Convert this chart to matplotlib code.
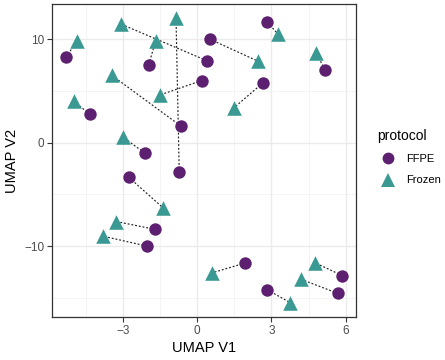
import matplotlib
matplotlib.use("Agg")
import matplotlib.pyplot as plt
from matplotlib.lines import Line2D
import numpy as np

plt.rcParams['font.family'] = ['Liberation Sans', 'DejaVu Sans']

# paired samples: FFPE (circles) and Frozen (triangles), same order
ffpe_x = [-5.30, -4.33, -1.95, 0.39, 0.51, 0.19, -0.66, -0.72, -2.12, -2.75,
          -1.68, -2.03, 2.84, 5.17, 2.66, 1.95, 5.86, 5.69, 2.84]
ffpe_y = [8.24, 2.73, 7.54, 7.92, 10.00, 6.00, 1.61, -2.88, -0.99, -3.37,
          -8.39, -10.00, 11.61, 7.06, 5.77, -11.63, -12.85, -14.58, -14.23]
frozen_x = [-4.83, -4.98, -1.67, -3.06, 2.47, -1.51, -3.45, -0.85, -3.01, -1.37,
            -3.26, -3.80, 3.26, 4.80, 1.49, 0.59, 4.75, 4.19, 3.77]
frozen_y = [9.85, 4.01, 9.85, 11.44, 7.86, 4.59, 6.51, 12.02, 0.55, -6.31,
            -7.63, -9.04, 10.52, 8.65, 3.37, -12.60, -11.60, -13.20, -15.48]

x_ticks = [-3, 0, 3, 6]
y_ticks = [-10, 0, 10]

purple = "#5d1f6f"
teal = "#3a9a93"

fig = plt.figure(figsize=(4.45, 3.6), dpi=100)
ax = fig.add_axes([52 / 445, 1 - 317 / 360, (356 - 52) / 445, (317 - 4) / 360])

# dotted lines joining each pair
for x1, y1, x2, y2 in zip(ffpe_x, ffpe_y, frozen_x, frozen_y):
    ax.plot([x1, x2], [y1, y2], color="#222222", lw=0.85,
            dashes=(1.6, 1.6), zorder=2)

ax.scatter(ffpe_x, ffpe_y, s=80, marker="o", color=purple, linewidths=0, zorder=3)
ax.scatter(frozen_x, frozen_y, s=110, marker="^", color=teal, linewidths=0, zorder=3)

# ggplot style 5% expansion
allx = np.array(ffpe_x + frozen_x)
ally = np.array(ffpe_y + frozen_y)
dx = (allx.max() - allx.min()) * 0.05
dy = (ally.max() - ally.min()) * 0.05
ax.set_xlim(allx.min() - dx, allx.max() + dx)
ax.set_ylim(ally.min() - dy, ally.max() + dy)

ax.set_xticks(x_ticks)
ax.set_yticks(y_ticks)
ax.set_xticks([-4.5, -1.5, 1.5, 4.5], minor=True)
ax.set_yticks([-15, -5, 5], minor=True)
ax.set_yticklabels(["\u221210", "0", "10"])
ax.set_xticklabels(["\u22123", "0", "3", "6"])
ax.tick_params(which="major", length=3.5, width=0.8, color="#333333",
               labelsize=8.5, labelcolor="#4d4d4d", pad=2)
ax.tick_params(which="minor", length=0)
ax.grid(which="major", color="#ebebeb", lw=1.0)
ax.grid(which="minor", color="#f2f2f2", lw=0.6)
ax.set_axisbelow(True)
for sp in ax.spines.values():
    sp.set_color("#333333")
    sp.set_linewidth(0.9)

ax.set_xlabel("UMAP V1", fontsize=10.5, labelpad=3)
ax.set_ylabel("UMAP V2", fontsize=10.5, labelpad=4)

handles = [
    Line2D([], [], marker="o", color=purple, ls="none", markersize=8.5, markeredgewidth=0),
    Line2D([], [], marker="^", color=teal, ls="none", markersize=9.5, markeredgewidth=0),
]
leg = ax.legend(handles, ["FFPE", "Frozen"], title="protocol", frameon=False,
                loc="center left", bbox_to_anchor=(1.043, 0.51), fontsize=8,
                title_fontsize=10, handletextpad=0.6, labelspacing=1.0,
                borderaxespad=0.3)
leg._legend_box.align = "left"

# cropped panel letter at the top left corner
fig.text(0.0, 1 - 3 / 360, "C", fontsize=14, fontweight="bold", va="bottom", ha="left")

fig.savefig("out.png", dpi=100)
